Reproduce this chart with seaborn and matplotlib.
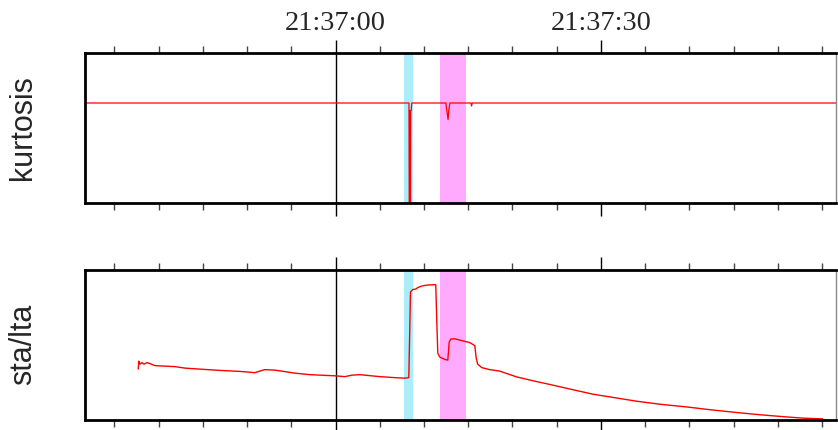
import numpy as np
import pandas as pd
import matplotlib
matplotlib.use("Agg")
import matplotlib.pyplot as plt
import matplotlib.dates as mdates
import seaborn as sns

# ---- data (seconds relative to 21:37:00) ----
base_time = "2020-01-01 21:37:00"

kurt_t = [-28.4, 8.30, 8.35, 8.40, 8.45, 8.50, 8.55, 8.62, 12.48, 12.55, 12.62, 12.72,
          12.80, 12.92, 15.30, 15.38, 15.45, 56.7]
kurt_v = [0.0, 0.0, -3.5, -0.15, -3.5, -0.15, -0.15, 0.0, 0.0, -0.12, -0.2, -0.33,
          -0.15, 0.0, 0.0, -0.06, 0.0, 0.0]

sta_t = [-22.30, -22.24, -22.11, -21.88, -21.65, -21.31, -20.97, -20.41, -19.28, -18.15,
         -17.02, -15.33, -13.07, -10.81, -9.12, -8.55, -7.99, -6.86, -5.73, -4.60,
         -2.91, 0.00, 1.05, 1.84, 2.74, 3.87, 5.00, 6.70, 7.83, 8.28,
         8.39, 8.47, 8.73, 9.07, 9.30, 9.75, 10.43, 11.33, 11.44, 11.56,
         11.78, 12.35, 12.69, 12.85, 13.02, 13.48, 14.27, 15.17, 15.74, 15.90,
         16.07, 16.53, 17.43, 18.56, 20.45, 22.51, 24.58, 26.80, 29.10, 31.55,
         34.00, 36.63, 39.65, 42.28, 45.30, 47.93, 50.94, 53.01, 55.08]
sta_v = [1.011, 1.171, 1.111, 1.141, 1.111, 1.141, 1.121, 1.081, 1.071, 1.061,
         1.031, 1.011, 0.985, 0.965, 0.940, 0.971, 1.001, 0.991, 0.961, 0.930,
         0.900, 0.876, 0.860, 0.890, 0.900, 0.880, 0.860, 0.840, 0.830, 0.840,
         1.794, 2.558, 2.608, 2.618, 2.648, 2.679, 2.699, 2.705, 1.995, 1.332,
         1.252, 1.206, 1.192, 1.553, 1.614, 1.620, 1.583, 1.543, 1.483, 1.232,
         1.111, 1.041, 1.001, 0.971, 0.856, 0.770, 0.689, 0.599, 0.508, 0.438,
         0.368, 0.307, 0.253, 0.197, 0.141, 0.096, 0.052, 0.026, 0.012]

pick_p = (7.72, 8.81)     # cyan window
pick_s = (11.78, 14.80)   # magenta window
x_range = (-28.32, 56.57)
kurt_ylim = (-2.0, 1.0)
sta_ylim = (0.0, 3.0)

t0 = pd.Timestamp(base_time)
def to_time(sec):
    return t0 + pd.to_timedelta(np.asarray(sec, dtype=float), unit="s")

kurt_df = pd.DataFrame({"time": to_time(kurt_t), "value": kurt_v})
sta_df = pd.DataFrame({"time": to_time(sta_t), "value": sta_v})

sns.set_style("white")

fig = plt.figure(figsize=(8.38, 4.30), dpi=100)
W, H = 838, 430
ax1 = fig.add_axes([85 / W, 1 - 203 / H, (836 - 85) / W, 150 / H])
ax2 = fig.add_axes([85 / W, 1 - 419.5 / H, (836 - 85) / W, 149.5 / H])

for ax, df, ylim, label in [(ax1, kurt_df, kurt_ylim, "kurtosis"),
                            (ax2, sta_df, sta_ylim, "sta/lta")]:
    ax.axvspan(to_time(pick_p[0]), to_time(pick_p[1]), color="#aaeefc", lw=0, zorder=0)
    ax.axvspan(to_time(pick_s[0]), to_time(pick_s[1]), color="#ffaafc", lw=0, zorder=0)
    ax.axvline(t0, color="black", lw=1.0, zorder=1)
    sns.lineplot(data=df, x="time", y="value", ax=ax, color="#ff0000",
                 lw=0.9 if ax is ax1 else 1.0, estimator=None, sort=False, zorder=2)
    ax.set_xlim(to_time(x_range[0]), to_time(x_range[1]))
    ax.set_ylim(*ylim)
    ax.set_yticks([])
    ax.set_xlabel("")
    ax.set_ylabel(label, fontsize=22, family=["Liberation Sans", "DejaVu Sans"])
    ax.yaxis.set_label_coords(-0.063, 0.5)
    for s in ax.spines.values():
        s.set_linewidth(2.0)
        s.set_color("black")
    ax.spines["right"].set_linewidth(1.0)
    ax.spines["right"].set_color("#888888")
    ax.xaxis.set_major_locator(mdates.SecondLocator(bysecond=[0, 30]))
    ax.xaxis.set_minor_locator(mdates.SecondLocator(bysecond=range(0, 60, 5)))
    ax.xaxis.set_major_formatter(mdates.DateFormatter("%H:%M:%S"))
    ax.tick_params(axis="x", which="major", direction="out", length=9.5, width=1.0,
                   top=True, bottom=True, color="black", pad=3)
    ax.tick_params(axis="x", which="minor", direction="out", length=4.8, width=1.0,
                   top=True, bottom=True, color="#444444")
    ax.tick_params(axis="x", labelbottom=False, labeltop=(ax is ax1))
    for lab in ax.get_xticklabels():
        lab.set_fontfamily(["Liberation Serif", "DejaVu Serif"])
        lab.set_fontsize(20.5)

fig.savefig("out.png", dpi=100)
